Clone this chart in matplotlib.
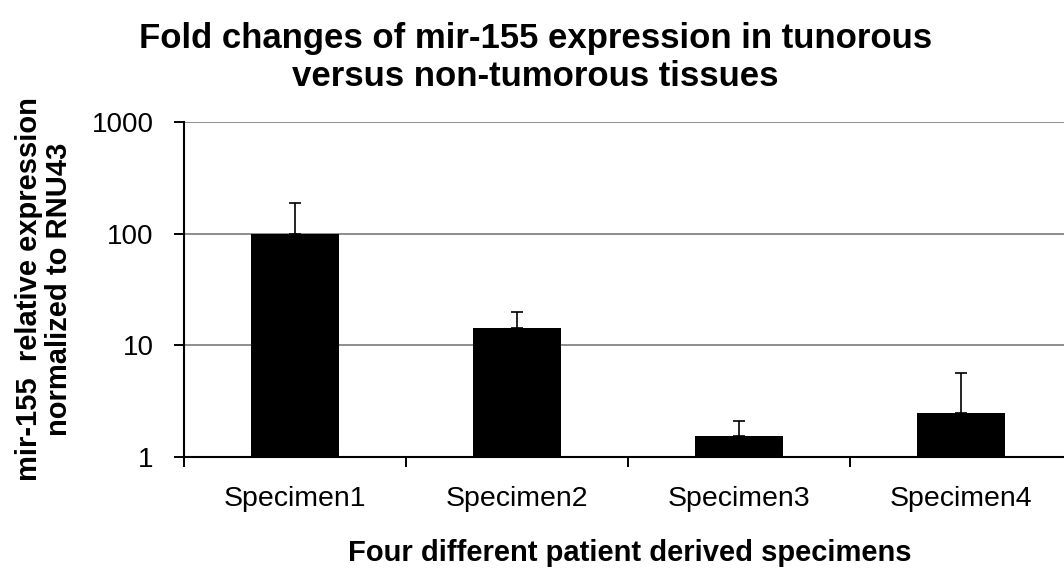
import numpy as np
import matplotlib.pyplot as plt
from matplotlib.ticker import FixedLocator, NullFormatter, FixedFormatter

plt.rcParams['font.family'] = ['Liberation Sans', 'DejaVu Sans']

# values (log scale)
specimens = ["Specimen1", "Specimen2", "Specimen3", "Specimen4"]
expression = [100, 14.4, 1.56, 2.47]
upper_bound = [189, 20.1, 2.10, 5.62]
y_ticks = [1, 10, 100, 1000]
y_tick_labels = ["1", "10", "100", "1000"]

x = np.arange(len(specimens))
err_up = np.array(upper_bound) - np.array(expression)
err = [np.zeros(len(x)), err_up]

fig = plt.figure(figsize=(10.64, 5.73), dpi=100)
# right edge of the plot runs just past the figure, as in the reference
ax = fig.add_axes([0.1729, 0.2019, 0.8346, 0.5857])

ax.set_yscale("log")
ax.set_ylim(1, 1000)
ax.set_xlim(-0.5, len(x) - 0.5)

# gridlines behind bars
for t in y_ticks[1:]:
    ax.axhline(t, color="#7a7a7a", linewidth=1.2, zorder=1)

ax.bar(x, expression, width=0.4, color="black", zorder=2)
ax.errorbar(x, expression, yerr=err, fmt="none", ecolor="black",
            elinewidth=1.2, capsize=4, capthick=1.2, zorder=3)

ax.yaxis.set_major_locator(FixedLocator(y_ticks))
ax.yaxis.set_major_formatter(FixedFormatter(y_tick_labels))
ax.yaxis.set_minor_locator(FixedLocator([]))
ax.yaxis.set_minor_formatter(NullFormatter())
ax.tick_params(axis="y", which="major", length=7, width=1.4, direction="out",
               labelsize=20, pad=15)

ax.set_xticks(x)
ax.set_xticklabels(specimens)
ax.set_xticks(np.arange(-0.5, len(x), 1.0), minor=True)
ax.tick_params(axis="x", which="major", length=0, labelsize=20.5, pad=21)
ax.tick_params(axis="x", which="minor", length=7, width=1.4, direction="out")

for side in ["top", "right"]:
    ax.spines[side].set_visible(False)
ax.spines["left"].set_linewidth(1.5)
ax.spines["bottom"].set_linewidth(1.5)

ax.set_xlabel("Four different patient derived specimens", fontsize=21,
              fontweight="bold")
ax.xaxis.set_label_coords(0.502, -0.243)
ax.set_ylabel("mir-155  relative expression\nnormalized to RNU43", fontsize=21,
              fontweight="bold", linespacing=1.1)
ax.yaxis.set_label_coords(-0.125, 0.5)

fig.text(0.503, 0.899,
         "Fold changes of mir-155 expression in tunorous\nversus non-tumorous tissues",
         ha="center", va="center", fontsize=25, fontweight="bold", linespacing=1.2)

fig.savefig("out.png", dpi=100)
